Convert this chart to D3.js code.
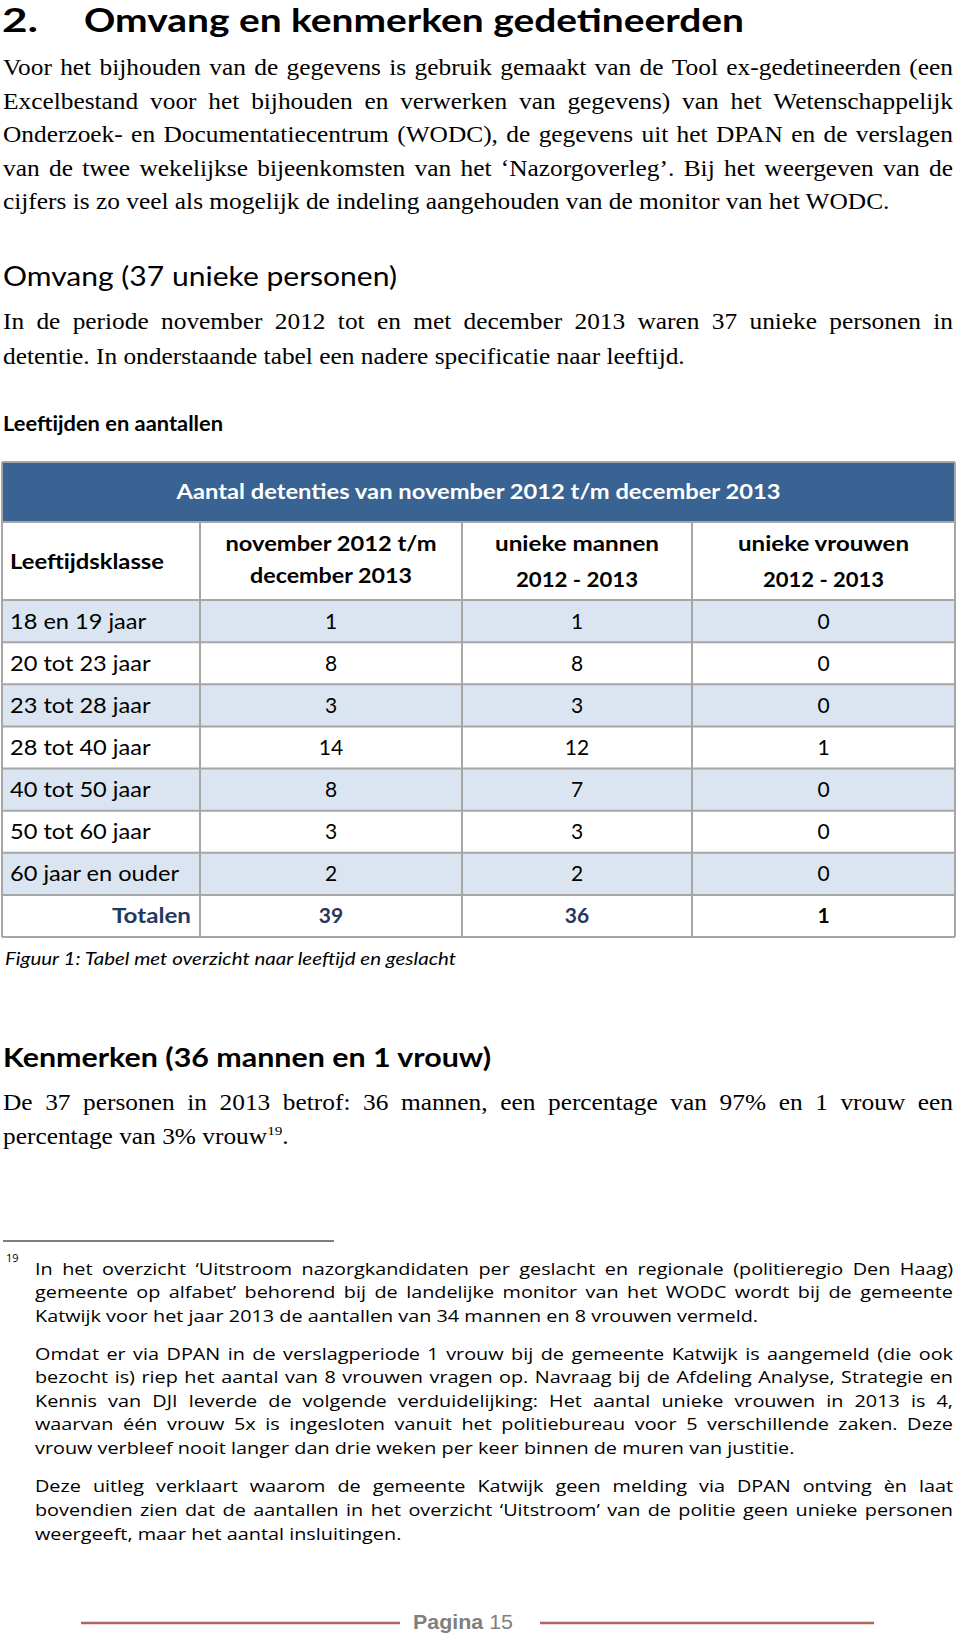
<!DOCTYPE html>
<html><head><meta charset="utf-8">
<script src="https://cdn.jsdelivr.net/npm/d3@7"></script>
<style>html,body{margin:0;padding:0;background:#fff;} svg{display:block}</style>
</head><body>
<svg id="page" width="960" height="1638"></svg>
<script>
// ---------------- DATA ----------------
const ageClasses = ["18 en 19 jaar","20 tot 23 jaar","23 tot 28 jaar","28 tot 40 jaar","40 tot 50 jaar","50 tot 60 jaar","60 jaar en ouder"];
const detentions  = [1, 8, 3, 14, 8, 3, 2];
const uniqueMen   = [1, 8, 3, 12, 7, 3, 2];
const uniqueWomen = [0, 0, 0, 1, 0, 0, 0];
const totalsLabel = "Totalen";
const totals = [39, 36, 1];
const tableTitle = "Aantal detenties van november 2012 t/m december 2013";
const columnHeaders = [["Leeftijdsklasse"], ["november 2012 t/m", "december 2013"], ["unieke mannen", "2012 - 2013"], ["unieke vrouwen", "2012 - 2013"]];

const pageTitleNum = "2.";
const pageTitle = "Omvang en kenmerken gedetineerden";
const para1 = [
  "Voor het bijhouden van de gegevens is gebruik gemaakt van de Tool ex-gedetineerden (een",
  "Excelbestand voor het bijhouden en verwerken van gegevens) van het Wetenschappelijk",
  "Onderzoek- en Documentatiecentrum (WODC), de gegevens uit het DPAN en de verslagen",
  "van de twee wekelijkse bijeenkomsten van het \u2018Nazorgoverleg\u2019. Bij het weergeven van de",
  "cijfers is zo veel als mogelijk de indeling aangehouden van de monitor van het WODC."
];
const heading2 = "Omvang (37 unieke personen)";
const para2 = [
  "In de periode november 2012 tot en met december 2013 waren 37 unieke personen in",
  "detentie. In onderstaande tabel een nadere specificatie naar leeftijd."
];
const tableHeading = "Leeftijden en aantallen";
const caption = "Figuur 1: Tabel met overzicht naar leeftijd en geslacht";
const heading3 = "Kenmerken (36 mannen en 1 vrouw)";
const para3 = [
  "De 37 personen in 2013 betrof: 36 mannen, een percentage van 97% en 1 vrouw een",
  "percentage van 3% vrouw^19^."
];
const footnoteMark = "19";
const foot1 = [
  "In het overzicht \u2018Uitstroom nazorgkandidaten per geslacht en regionale (politieregio Den Haag)",
  "gemeente op alfabet\u2019 behorend bij de landelijke monitor van het WODC wordt bij de gemeente",
  "Katwijk voor het jaar 2013 de aantallen van 34 mannen en 8 vrouwen vermeld."
];
const foot2 = [
  "Omdat er via DPAN in de verslagperiode 1 vrouw bij de gemeente Katwijk is aangemeld (die ook",
  "bezocht is) riep het aantal van 8 vrouwen vragen op. Navraag bij de Afdeling Analyse, Strategie en",
  "Kennis van DJI leverde de volgende verduidelijking: Het aantal unieke vrouwen in 2013 is 4,",
  "waarvan \u00e9\u00e9n vrouw 5x is ingesloten vanuit het politiebureau voor 5 verschillende zaken. Deze",
  "vrouw verbleef nooit langer dan drie weken per keer binnen de muren van justitie."
];
const foot3 = [
  "Deze uitleg verklaart waarom de gemeente Katwijk geen melding via DPAN ontving \u00e8n laat",
  "bovendien zien dat de aantallen in het overzicht \u2018Uitstroom\u2019 van de politie geen unieke personen",
  "weergeeft, maar het aantal insluitingen."
];
const footerBold = "Pagina";
const footerNum = " 15";

// ---------------- STYLE ----------------
const SERIF = "'Liberation Serif','Times New Roman',serif";
const SANS = "Lato,'Open Sans',sans-serif";
const FOOT = "'Open Sans','Noto Sans',sans-serif";
const BLUE = "#396393", LIGHT = "#dbe5f1", GRID = "#a6a6a6", NAVY = "#1f3a60";

const svg = d3.select("#page");

function measureIn(g, str) {
  const t = g.append("text").text(str);
  const w = t.node().getComputedTextLength();
  t.remove();
  return w;
}
function richText(sel, str, size) {
  const parts = str.split("^");
  let shifted = false;
  parts.forEach((p, i) => {
    if (!p) return;
    const t = sel.append("tspan").text(p);
    if (i % 2 === 1) { t.attr("font-size", size * 0.6).attr("dy", -size * 0.4); shifted = true; }
    else if (shifted) { t.attr("dy", size * 0.4); shifted = false; }
  });
}
function scaleFor(family, size, str, target, weight) {
  const g = svg.append("g").attr("font-family", family).attr("font-size", size).attr("font-weight", weight || "normal");
  const w = measureIn(g, str);
  g.remove();
  return target / w;
}
function paragraph(lines, o) {
  const g = svg.append("g").attr("font-family", o.family).attr("font-size", o.size).attr("fill", "#000")
    .attr("transform", `translate(${o.x},0) scale(${o.sx},1)`);
  const Wl = o.width / o.sx;
  lines.forEach((ln, i) => {
    const yy = o.y0 + i * o.lh;
    if (i === lines.length - 1) {
      const t = g.append("text").attr("x", 0).attr("y", yy).attr("xml:space", "preserve");
      richText(t, ln, o.size);
    } else {
      const words = ln.split(" ");
      const widths = words.map(w => measureIn(g, w));
      const gap = (Wl - d3.sum(widths)) / (words.length - 1);
      const t = g.append("text").attr("y", yy);
      let cx = 0;
      words.forEach((w, k) => { t.append("tspan").attr("x", cx).text(w); cx += widths[k] + gap; });
    }
  });
  return g;
}
function fitText(parent, str, o) {
  const t = parent.append("text").attr("x", o.x).attr("y", o.y)
    .attr("font-family", o.family).attr("font-size", o.size)
    .attr("font-weight", o.weight || "normal").attr("font-style", o.style || "normal")
    .attr("fill", o.fill || "#000").attr("text-anchor", o.anchor || "start").text(str);
  if (o.width) t.attr("textLength", o.width).attr("lengthAdjust", "spacingAndGlyphs");
  return t;
}

// ---------------- TITLE & TEXT ----------------
fitText(svg, pageTitleNum, {x: 2, y: 31.5, family: SANS, size: 32, weight: "bold", width: 36});
fitText(svg, pageTitle, {x: 84, y: 31.5, family: SANS, size: 32, weight: "bold", width: 660});

const serifSx = scaleFor(SERIF, 22.5, para1[para1.length - 1], 887);
paragraph(para1, {x: 3, y0: 75.5, lh: 33.45, size: 22.5, family: SERIF, sx: serifSx, width: 950});

fitText(svg, heading2, {x: 3, y: 286, family: SANS, size: 26, width: 394});
paragraph(para2, {x: 3, y0: 329.5, lh: 34.5, size: 22.5, family: SERIF, sx: serifSx, width: 950});

fitText(svg, tableHeading, {x: 3, y: 431, family: SANS, size: 20, weight: "bold", width: 220});

// ---------------- TABLE ----------------
const colEdges = [2, 200, 462, 692, 955];
const tTop = 462, tHeadBottom = 522, tSubBottom = 600, tBottom = 937;
const rows = ageClasses.map((a, i) => ({label: a, values: [detentions[i], uniqueMen[i], uniqueWomen[i]], total: false}))
  .concat([{label: totalsLabel, values: totals, total: true}]);
const y = d3.scaleBand().domain(rows.map(r => r.label)).range([tSubBottom, tBottom]);
const colCenter = c => (colEdges[c] + colEdges[c + 1]) / 2;

const tg = svg.append("g");
tg.append("rect").attr("x", colEdges[0]).attr("y", tTop).attr("width", colEdges[4] - colEdges[0])
  .attr("height", tHeadBottom - tTop).attr("fill", BLUE);
tg.selectAll("rect.row").data(rows).join("rect").attr("class", "row")
  .attr("x", colEdges[0]).attr("width", colEdges[4] - colEdges[0])
  .attr("y", d => y(d.label)).attr("height", y.bandwidth())
  .attr("fill", (d, i) => (!d.total && i % 2 === 0) ? LIGHT : "#fff");

// grid
const hLines = [tTop, tHeadBottom, tSubBottom].concat(rows.map(r => y(r.label) + y.bandwidth()));
tg.selectAll("line.h").data(hLines).join("line").attr("class", "h")
  .attr("x1", colEdges[0]).attr("x2", colEdges[4]).attr("y1", d => d).attr("y2", d => d)
  .attr("stroke", GRID).attr("stroke-width", 2);
tg.selectAll("line.v").data(colEdges).join("line").attr("class", "v")
  .attr("x1", d => d).attr("x2", d => d)
  .attr("y1", (d, i) => (i === 0 || i === colEdges.length - 1) ? tTop : tHeadBottom).attr("y2", tBottom)
  .attr("stroke", GRID).attr("stroke-width", 2);

// header texts
fitText(tg, tableTitle, {x: (colEdges[0] + colEdges[4]) / 2, y: 499, family: SANS, size: 20, weight: "bold", fill: "#fff", anchor: "middle", width: 604});
fitText(tg, columnHeaders[0][0], {x: 10, y: 569, family: SANS, size: 21, weight: "bold", width: 154});
const subWidths = [[null], [211, 162], [164, 122], [171, 121]];
const subY = [[569], [551, 583], [551, 587], [551, 587]];
for (let c = 1; c < 4; c++) {
  columnHeaders[c].forEach((s, k) => {
    fitText(tg, s, {x: colCenter(c), y: subY[c][k], family: SANS, size: 21, weight: "bold", anchor: "middle", width: subWidths[c][k]});
  });
}

// body rows
const labelSx = scaleFor(SANS, 21, "60 jaar en ouder", 169);
const labelG = svg.append("g").attr("font-family", SANS).attr("font-size", 21);
rows.forEach((r) => {
  const cy = y(r.label) + y.bandwidth() / 2 + 7.5;
  if (!r.total) {
    const w = measureIn(labelG, r.label) * labelSx;
    fitText(tg, r.label, {x: 10, y: cy, family: SANS, size: 21, width: w});
  } else {
    fitText(tg, r.label, {x: 191, y: cy, family: SANS, size: 21, weight: "bold", fill: NAVY, anchor: "end", width: 79});
  }
  r.values.forEach((v, j) => {
    fitText(tg, String(v), {x: colCenter(j + 1), y: cy, family: SANS, size: 21,
      weight: r.total ? "bold" : "normal", fill: r.total ? (j < 2 ? NAVY : "#000") : "#000", anchor: "middle"});
  });
});
labelG.remove();

fitText(svg, caption, {x: 5, y: 965, family: SANS, size: 16.5, style: "italic", width: 451});

fitText(svg, heading3, {x: 3, y: 1066.5, family: SANS, size: 26, weight: "bold", width: 488});
paragraph(para3, {x: 3, y0: 1110, lh: 34.5, size: 22.5, family: SERIF, sx: serifSx, width: 950});

// ---------------- FOOTNOTE ----------------
svg.append("line").attr("x1", 3).attr("x2", 334).attr("y1", 1241).attr("y2", 1241).attr("stroke", "#000").attr("stroke-width", 1.2);
fitText(svg, footnoteMark, {x: 6, y: 1262, family: FOOT, size: 11});
const footSx = scaleFor(FOOT, 16, foot2[foot2.length - 1], 760);
paragraph(foot1, {x: 35, y0: 1275, lh: 23.5, size: 16, family: FOOT, sx: footSx, width: 918});
paragraph(foot2, {x: 35, y0: 1360, lh: 23.5, size: 16, family: FOOT, sx: footSx, width: 918});
paragraph(foot3, {x: 35, y0: 1492, lh: 24, size: 16, family: FOOT, sx: footSx, width: 918});

// ---------------- PAGE FOOTER ----------------
svg.append("line").attr("x1", 81).attr("x2", 400).attr("y1", 1623).attr("y2", 1623).attr("stroke", "#b0655c").attr("stroke-width", 2.5);
svg.append("line").attr("x1", 540).attr("x2", 874).attr("y1", 1623).attr("y2", 1623).attr("stroke", "#b0655c").attr("stroke-width", 2.5);
const ft = svg.append("text").attr("x", 413).attr("y", 1629).attr("font-family", "'Liberation Sans',Arial,sans-serif")
  .attr("font-size", 20).attr("fill", "#7f7f7f");
ft.append("tspan").attr("font-weight", "bold").text(footerBold);
ft.append("tspan").attr("xml:space", "preserve").text(footerNum);
ft.attr("textLength", 100).attr("lengthAdjust", "spacingAndGlyphs");
</script>
</body></html>
